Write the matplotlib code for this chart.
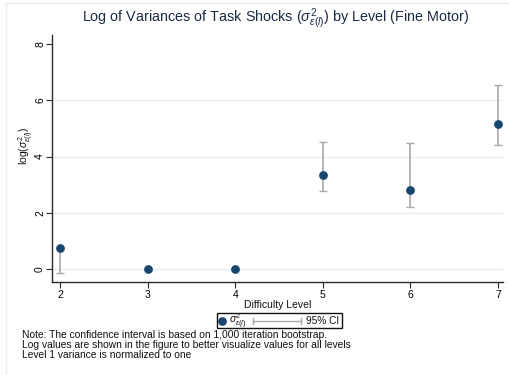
import matplotlib
matplotlib.use("Agg")
import matplotlib.pyplot as plt
import matplotlib.transforms as mtransforms
from matplotlib.lines import Line2D
from matplotlib.patches import Rectangle
import numpy as np

plt.rcParams['font.family'] = ['Liberation Sans', 'DejaVu Sans']
plt.rcParams['mathtext.fontset'] = 'custom'
plt.rcParams['mathtext.rm'] = 'Liberation Sans'
plt.rcParams['mathtext.it'] = 'Liberation Sans:italic'

levels = [2, 3, 4, 5, 6, 7]
log_var = [0.75, 0.0, 0.0, 3.34, 2.81, 5.16]
ci_low = [-0.13, 0.0, 0.0, 2.76, 2.19, 4.42]
ci_high = [0.75, 0.0, 0.0, 4.50, 4.49, 6.54]
yticks = [0, 2, 4, 6, 8]
gridlines = [0, 2, 4, 6]

W, H = 510, 375
fig = plt.figure(figsize=(W / 100, H / 100), dpi=100)
fig.patch.set_facecolor('white')

# pixel transform (origin top-left)
px = mtransforms.Affine2D().scale(1 / W, -1 / H).translate(0, 1) + fig.transFigure

L, R, T, B = 52, 503, 35, 282
ax = fig.add_axes([L / W, 1 - B / H, (R - L) / W, (B - T) / H])
ax.set_xlim(1.909, 7.057)
ax.set_ylim(-0.462, 8.32)

navy = '#1a476f'
gray = '#a8a8a8'
gridc = '#e4eef1'
spc = '#2a2a2a'

for g in gridlines:
    ax.axhline(g, color=gridc, lw=1.0, zorder=0)

lv = np.array(levels)
yv = np.array(log_var)
lo = np.array(ci_low)
hi = np.array(ci_high)
ax.errorbar(lv, yv, yerr=[yv - lo, hi - yv], fmt='none', ecolor=gray,
            elinewidth=1.2, capsize=3, capthick=1.0, zorder=2)
ax.plot(lv, yv, 'o', color=navy, markersize=6.3, markeredgewidth=0, zorder=3)

for s in ['top', 'right']:
    ax.spines[s].set_visible(False)
for s in ['left', 'bottom']:
    ax.spines[s].set_color(spc)
    ax.spines[s].set_linewidth(1.0)

ax.set_xticks(levels)
ax.set_xticklabels([str(v) for v in levels], fontsize=7.5)
ax.set_yticks(yticks)
ax.set_yticklabels([str(v) for v in yticks], fontsize=7.5, rotation=90, va='center')
ax.tick_params(axis='both', direction='out', length=4, width=0.8, color=spc, pad=2)
ax.tick_params(axis='y', pad=1)

# titles and labels
fig.text(276, 22, r'Log of Variances of Task Shocks ($\sigma^2_{\varepsilon(l)}$) by Level (Fine Motor)',
         transform=px, ha='center', va='baseline', fontsize=10.4, color='#1c2b45')
fig.text(278, 305, 'Difficulty Level', transform=px, ha='center', va='center', fontsize=7.5, color='#111')
fig.text(26, 146, r'log($\sigma^2_{\varepsilon(l)}$)', transform=px, ha='center', va='center',
         rotation=90, fontsize=7.5, color='#111')

# legend (manual)
fig.add_artist(Rectangle((217, 313), 125, 15, transform=px, fill=False, edgecolor='#111', lw=1.0))
fig.add_artist(Line2D([222], [321], transform=px, marker='o', color=navy, markersize=6.3, markeredgewidth=0))
fig.text(229, 321, r'$\sigma^2_{\varepsilon(l)}$', transform=px, ha='left', va='center', fontsize=7.5, color='#111')
fig.add_artist(Line2D([253, 301], [321, 321], transform=px, color=gray, lw=1.0))
fig.add_artist(Line2D([253, 253], [318, 324], transform=px, color=gray, lw=1.0))
fig.add_artist(Line2D([301, 301], [318, 324], transform=px, color=gray, lw=1.0))
fig.text(306, 321, '95% CI', transform=px, ha='left', va='center', fontsize=7.3, color='#111')

notes = ["Note: The confidence interval is based on 1,000 iteration bootstrap.",
         "Log values are shown in the figure to better visualize values for all levels",
         "Level 1 variance is normalized to one"]
for i, n in enumerate(notes):
    fig.text(22, 335 + 10 * i, n, transform=px, ha='left', va='center', fontsize=7.4, color='#111')

# outer region border (top and left visible)
fig.add_artist(Line2D([6, W], [3, 3], transform=px, color='#e6eff1', lw=1.0))
fig.add_artist(Line2D([6, 6], [3, H], transform=px, color='#e6eff1', lw=1.0))

fig.savefig('out.png', dpi=100, facecolor='white')
